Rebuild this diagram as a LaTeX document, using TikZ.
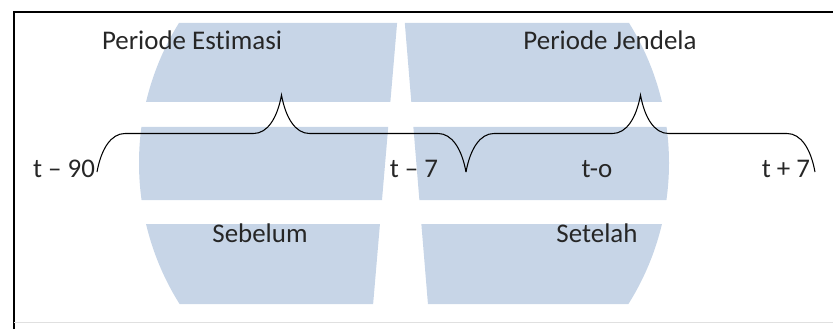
\documentclass[tikz,border=0pt]{standalone}
\usepackage{fontspec}
\setmainfont{Carlito}[Ligatures=NoCommon]
\usepackage{tikz}
\usetikzlibrary{positioning, calc, decorations.pathreplacing}

\definecolor{wmarkblue}{RGB}{199,213,231}

\begin{document}
\begin{tikzpicture}[x=0.03cm, y=0.03cm, font=\fontsize{23}{27}\selectfont,
    lbl/.style={anchor=base, inner sep=0pt, text=black!85},
    curly/.style={decorate, line width=0.9pt,
      decoration={brace, amplitude=0.84cm, transform={yscale=2.75}}}]
	\useasboundingbox (0,0) rectangle (833,329);

	% watermark behind everything
	\begin{scope}
		\clip (0,227) rectangle (833,306) (0,129) rectangle (833,202) (0,25) rectangle (833,105);
		\clip (404,166) circle (265);
		\fill[wmarkblue] (0,0) -- (371,0) -- (400,340) -- (0,340) -- cycle;
		\fill[wmarkblue] (430,0) -- (833,0) -- (833,340) -- (402,340) -- cycle;
	\end{scope}

	% frame
	\draw[line width=1.4pt] (14,0) -- (14,317) -- (833,317);
	\draw[black!12] (14,7) -- (833,7);

	\node[lbl] (estimasi) at (192,279) {Periode Estimasi};
	\node[lbl] (jendela) at (610,279) {Periode Jendela};
	\node[lbl] (t90) at (64,152) {t – 90};
	\node[lbl] (t7) at (414,152) {t – 7};
	\node[lbl] (t0) at (597,152) {t-o};
	\node[lbl] (tp7) at (786,152) {t + 7};
	\node[lbl] (sebelum) at (260,87) {Sebelum};
	\node[lbl] (setelah) at (597,87) {Setelah};

	\coordinate (e90) at (97,157);
	\coordinate (e7) at (466,157);
	\coordinate (ep7) at (815,157);

	\draw[curly] (e90) -- (e7);
	\draw[curly] (e7) -- (ep7);
\end{tikzpicture}
\end{document}
